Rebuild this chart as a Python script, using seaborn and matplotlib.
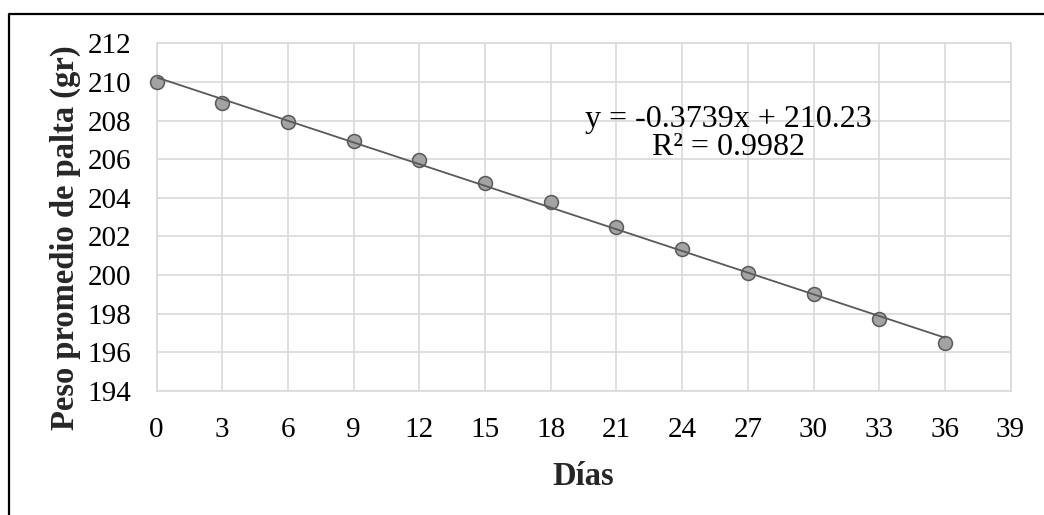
#!/usr/bin/env python3
"""Peso promedio de palta vs días, con línea de tendencia lineal."""
import numpy as np
import matplotlib.pyplot as plt
from matplotlib.lines import Line2D
import seaborn as sns

# Datos
dias = [0, 3, 6, 9, 12, 15, 18, 21, 24, 27, 30, 33, 36]
peso = [210.0, 208.9, 207.9, 206.94, 205.95, 204.79, 203.76,
        202.48, 201.33, 200.12, 199.02, 197.74, 196.48]
x_ticks = list(range(0, 40, 3))
y_ticks = list(range(194, 213, 2))
ecuacion = "y = -0.3739x + 210.23\nR² = 0.9982"


def main():
    sns.set_theme(style="whitegrid")
    plt.rcParams['font.family'] = ['Liberation Serif', 'DejaVu Serif']

    fig = plt.figure(figsize=(10.44, 5.15), dpi=100)
    ax = fig.add_axes([0.150, 0.241, 0.818, 0.675])

    sns.regplot(x=np.array(dias), y=np.array(peso), ax=ax, ci=None, truncate=True,
                scatter_kws={"s": 100, "color": "#a3a3a3", "edgecolor": "#595959",
                             "linewidths": 1.1, "alpha": 1, "clip_on": False,
                             "zorder": 3},
                line_kws={"color": "#595959", "linewidth": 1.3, "zorder": 4})

    ax.set_xlim(0, 39)
    ax.set_ylim(194, 212)
    ax.set_xticks(x_ticks)
    ax.set_yticks(y_ticks)
    ax.grid(True, color="#d9d9d9", linewidth=1.2)
    for sp in ax.spines.values():
        sp.set_color("#d9d9d9")
        sp.set_linewidth(1.2)
    ax.tick_params(axis='both', length=0, labelsize=21, colors="black")
    ax.tick_params(axis='y', pad=18)
    ax.tick_params(axis='x', pad=19)

    ax.set_xlabel("Días", fontsize=23.5, fontweight='bold', labelpad=13)
    ax.set_ylabel("Peso promedio de palta (gr)", fontsize=23.5, fontweight='bold')
    # la etiqueta del eje y está algo más abajo que el centro del área de trazado
    ax.yaxis.set_label_coords(-0.088, 0.44)

    ax.text(26.1, 207.35, ecuacion, fontsize=23, ha='center', va='center',
            linespacing=0.95, color="black")

    # Marco exterior (solo borde superior e izquierdo visibles)
    x0 = 9 / 1044
    y0 = 1 - 14 / 515
    fig.add_artist(Line2D([x0, x0, 1.0], [0.0, y0, y0], color="black",
                          linewidth=1.6, transform=fig.transFigure))

    fig.savefig("out.png", dpi=100)
    plt.close(fig)


if __name__ == "__main__":
    main()
